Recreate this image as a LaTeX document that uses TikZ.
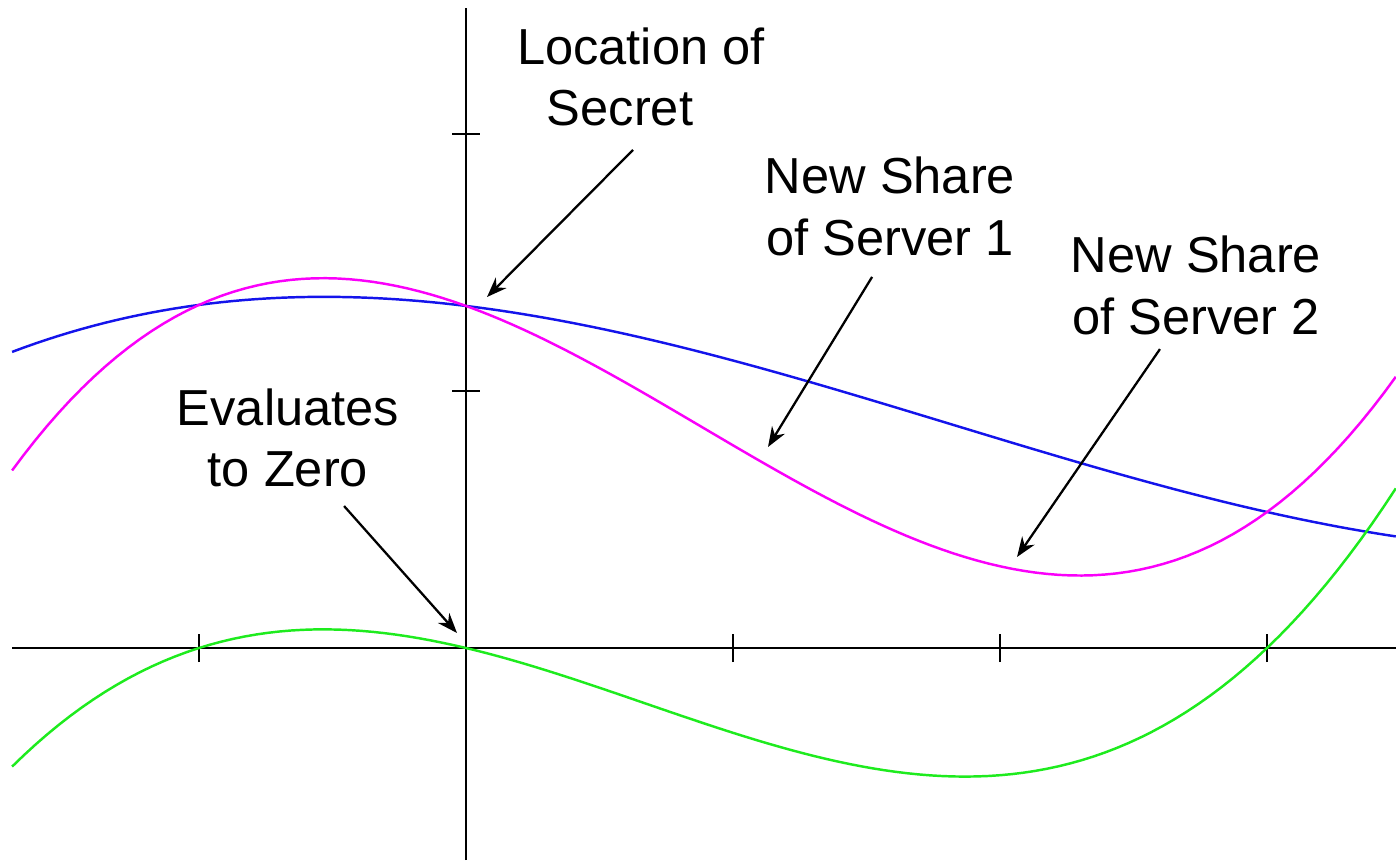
\documentclass[tikz,border=0pt]{standalone}
\usepackage{fontspec}
\setmainfont{Liberation Sans}
\usetikzlibrary{arrows.meta}

\definecolor{oldpoly}{RGB}{20,20,235}
\definecolor{newpoly}{RGB}{250,0,250}
\definecolor{zeropoly}{RGB}{30,235,30}

\tikzset{
  lbl/.style={align=center, inner sep=0pt, font=\fontsize{14.4}{17.6}\selectfont},
  pointer/.style={-{Stealth[length=0.2cm, width=0.15cm]}, line width=0.65pt, black},
  curve/.style={line width=0.7pt, domain=-1.7:3.483, samples=120}
}

\begin{document}
\begin{tikzpicture}[x=2.67cm, y=2.57cm]
  \useasboundingbox (-1.7453,-0.8249) rectangle (3.4831,2.5214);

  % Axes
  \draw[line width=0.65pt] (-1.7,0) -- (3.4831,0);
  \draw[line width=0.65pt] (0,-0.8249) -- (0,2.49);

  % Ticks
  \foreach \t in {-1,1,2,3}
    \draw[line width=0.65pt] (\t,-0.055) -- (\t,0.055);
  \foreach \t in {1,2}
    \draw[line width=0.65pt] (-0.052,\t) -- (0.052,\t);

  % Old polynomial (blue)
  \draw[curve, oldpoly] plot (\x, {1.331-0.1274*\x-0.1042*\x*\x+0.0192*\x*\x*\x});

  % Zero polynomial (green)
  \draw[curve, zeropoly] plot (\x, {0.0825*\x*(\x+1)*(\x-3)});

  % New polynomial = old + zero (magenta)
  \draw[curve, newpoly] plot (\x, {1.331-0.1274*\x-0.1042*\x*\x+0.0192*\x*\x*\x+0.0825*\x*(\x+1)*(\x-3)});

  % Labels
  \node[lbl] (sec) at (0.6554,2.222) {Location of\\Secret\hspace*{0.42cm}};
  \node[lbl] (srvA) at (1.588,1.718) {New Share\\of Server 1};
  \node[lbl] (srvB) at (2.734,1.41) {New Share\\of Server 2};
  \node[lbl] (zero) at (-0.6667,0.8174) {Evaluates\\to Zero};

  % Arrow tips
  \coordinate (secPt) at (0.0787,1.3658);
  \coordinate (srvAPt) at (1.1311,0.7821);
  \coordinate (srvBPt) at (2.0637,0.3541);
  \coordinate (zeroPt) at (-0.0337,0.0584);

  \draw[pointer] ([shift={(-0.03,-0.284)}]sec.center) -- (secPt);
  \draw[pointer] ([shift={(-0.067,-0.274)}]srvA.center) -- (srvAPt);
  \draw[pointer] ([shift={(-0.135,-0.247)}]srvB.center) -- (srvBPt);
  \draw[pointer] ([shift={(0.21,-0.265)}]zero.center) -- (zeroPt);
\end{tikzpicture}
\end{document}
